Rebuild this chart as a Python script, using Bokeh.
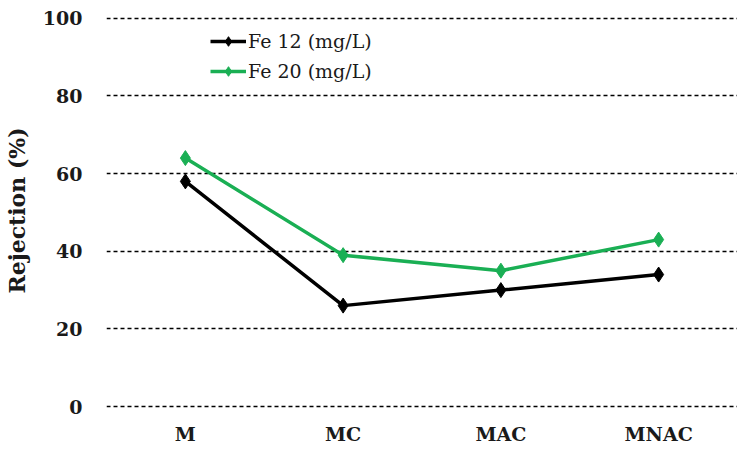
from bokeh.plotting import figure
from bokeh.models import Range1d, FactorRange, Legend, LegendItem
from bokeh.embed import file_html
from bokeh.resources import INLINE

# data
samples = ["M", "MC", "MAC", "MNAC"]
fe12 = [58, 26, 30, 34]
fe20 = [64, 39, 35, 43]
series_names = ["Fe 12 (mg/L)", "Fe 20 (mg/L)"]
y_ticks = [0, 20, 40, 60, 80, 100]

colors = ["#000000", "#1aaf54"]
font = "DejaVu Serif"

p = figure(x_range=FactorRange(*samples, range_padding=0), y_range=Range1d(-0.5, 101.5),
           frame_width=631, frame_height=396, output_backend="svg", toolbar_location=None, tools="",
           min_border_left=104, min_border_right=0, min_border_top=12, min_border_bottom=30)

p.outline_line_color = None
p.xgrid.grid_line_color = None
p.ygrid.grid_line_color = "black"
p.ygrid.grid_line_dash = "4 3"
p.ygrid.grid_line_width = 1.3
p.yaxis.ticker = y_ticks

# axes: no lines or ticks, only bold serif labels
for ax in [p.xaxis, p.yaxis]:
    ax.axis_line_color = None
    ax.major_tick_line_color = None
    ax.minor_tick_line_color = None
    ax.major_tick_out = 0
    ax.major_tick_in = 0
    ax.major_label_text_font = font
    ax.major_label_text_font_style = "bold"
    ax.major_label_text_font_size = "19px"
    ax.major_label_text_color = "#1a1a1a"

p.xaxis.major_label_standoff = 14
p.yaxis.major_label_standoff = 24
p.yaxis.axis_label = "Rejection (%)"
p.yaxis.axis_label_text_font = font
p.yaxis.axis_label_text_font_style = "bold"
p.yaxis.axis_label_text_font_size = "22px"
p.yaxis.axis_label_text_color = "#1a1a1a"
p.yaxis.axis_label_standoff = 10

items = []
for name, vals, col in zip(series_names, [fe12, fe20], colors):
    ln = p.line(samples, vals, line_color=col, line_width=3.5)
    mk = p.scatter(samples, vals, marker="diamond", size=15, fill_color=col, line_color=col)
    items.append(LegendItem(label=name, renderers=[ln, mk]))

legend = Legend(items=items, location=(104, 325))
legend.background_fill_alpha = 0
legend.border_line_color = None
legend.padding = 0
legend.spacing = 6
legend.glyph_width = 36
legend.glyph_height = 24
legend.label_height = 24
legend.label_standoff = 2
legend.label_text_font = font
legend.label_text_font_size = "19px"
legend.label_text_color = "#1a1a1a"
p.add_layout(legend)

open("out.html", "w").write(file_html(p, INLINE))
